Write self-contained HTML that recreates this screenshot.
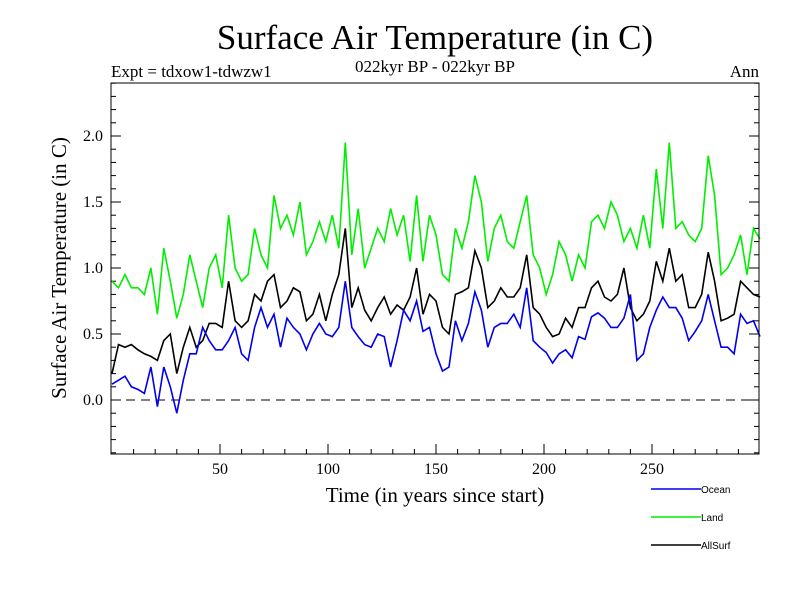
<!DOCTYPE html>
<html><head><meta charset="utf-8"><style>
body{margin:0;background:#fff}
svg text{font-family:"Liberation Serif",serif}
svg text.sans{font-family:"Liberation Sans",sans-serif}
</style></head><body>
<svg id="chart" width="800" height="600" xmlns="http://www.w3.org/2000/svg">
<rect width="800" height="600" fill="#fff"/>
<text x="435" y="49" font-size="35" text-anchor="middle">Surface Air Temperature (in C)</text>
<text x="111" y="77" font-size="17">Expt = tdxow1-tdwzw1</text>
<text x="435" y="72" font-size="17" text-anchor="middle">022kyr BP - 022kyr BP</text>
<text x="759" y="77" font-size="17" text-anchor="end">Ann</text>
<text x="435" y="502" font-size="21" text-anchor="middle">Time (in years since start)</text>
<text transform="translate(66,268) rotate(-90)" font-size="21" text-anchor="middle">Surface Air Temperature (in C)</text>
<g id="axes"></g>
<g id="series"></g>
<rect x="111" y="83" width="648" height="371" fill="none" stroke="#000" stroke-width="1"/>
<g id="legend"></g>
</svg>
<script>
const years = [];
for (let i = 0; i <= 100; i++) years.push(i * 3);
const ocean = [0.12,0.15,0.18,0.10,0.08,0.05,0.25,-0.05,0.25,0.10,-0.10,0.15,0.35,0.35,0.55,0.45,0.38,0.38,0.45,0.55,0.35,0.30,0.55,0.70,0.55,0.65,0.40,0.62,0.55,0.50,0.38,0.50,0.58,0.50,
0.48,0.55,0.90,0.55,0.48,0.42,0.40,0.50,0.48,0.25,0.45,0.68,0.60,0.75,0.52,0.55,0.35,0.22,0.25,0.60,0.45,0.58,0.82,0.68,0.40,0.55,0.58,0.58,0.65,0.55,0.85,0.45,0.40,
0.36,0.28,0.35,0.38,0.32,0.48,0.46,0.63,0.66,0.62,0.55,0.55,0.62,0.80,0.30,0.35,0.55,0.68,0.78,0.70,0.70,0.62,0.45,0.52,0.60,0.80,0.60,0.40,0.40,0.35,0.65,0.58,0.60,0.48];
const land = [0.90,0.85,0.95,0.85,0.85,0.80,1.00,0.65,1.15,0.90,0.62,0.80,1.10,0.90,0.70,1.00,1.10,0.85,1.40,1.00,0.90,0.95,1.30,1.10,1.00,1.55,1.30,1.40,1.25,1.50,1.10,1.20,1.35,1.20,
1.40,1.15,1.95,1.10,1.45,1.00,1.15,1.30,1.20,1.45,1.25,1.40,1.05,1.55,1.05,1.40,1.25,0.95,0.90,1.30,1.15,1.35,1.70,1.50,1.05,1.30,1.40,1.20,1.15,1.35,1.55,1.10,1.00,
0.80,0.95,1.20,1.10,0.90,1.10,1.00,1.35,1.40,1.30,1.50,1.40,1.20,1.30,1.15,1.40,1.15,1.75,1.30,1.95,1.30,1.35,1.25,1.20,1.30,1.85,1.55,0.95,1.00,1.10,1.25,0.95,1.30,1.22];
const allsurf = [0.20,0.42,0.40,0.42,0.38,0.35,0.33,0.30,0.45,0.50,0.20,0.40,0.55,0.40,0.45,0.58,0.58,0.55,0.90,0.60,0.55,0.60,0.80,0.75,0.90,0.95,0.70,0.75,0.85,0.82,0.60,0.65,0.80,0.60,
0.80,0.95,1.30,0.70,0.85,0.68,0.60,0.70,0.78,0.65,0.72,0.68,0.78,1.00,0.65,0.80,0.75,0.55,0.50,0.80,0.82,0.85,1.13,1.00,0.70,0.75,0.85,0.78,0.78,0.85,1.10,0.70,0.65,
0.55,0.48,0.50,0.62,0.55,0.70,0.70,0.85,0.90,0.78,0.75,0.80,1.00,0.70,0.60,0.65,0.75,1.05,0.90,1.15,0.90,0.95,0.70,0.70,0.80,1.12,0.90,0.60,0.62,0.65,0.90,0.85,0.80,0.78];
const xTicks = [50,100,150,200,250];
const yTicks = [0.0,0.5,1.0,1.5,2.0];
const yTickLabels = ["0.0","0.5","1.0","1.5","2.0"];

const NS = "http://www.w3.org/2000/svg";
const X = yr => 112 + yr * 2.16;
const Y = v => 400 - v * 132;
function mk(tag, attrs, parent){const e=document.createElementNS(NS,tag);for(const k in attrs)e.setAttribute(k,attrs[k]);parent.appendChild(e);return e;}
const axes = document.getElementById('axes');
for (let t = 10; t < 300; t += 10) {
  const len = t % 50 === 0 ? 10 : 5;
  const l = mk('line',{x1:X(t),x2:X(t),y1:454,y2:454-len,stroke:'#000'},axes);
  
  
}
xTicks.forEach(t=>{
  const tx = mk('text',{x:X(t),y:474,'font-size':16,'text-anchor':'middle'},axes);
  tx.textContent = t;
  
  
});
for (let k = -4; k <= 24; k++) {
  const v = k/10, len = k % 5 === 0 ? 10 : 5;
  let l = mk('line',{x1:111,x2:111+len,y1:Y(v),y2:Y(v),stroke:'#000'},axes);
  
  
  l = mk('line',{x1:759,x2:759-len,y1:Y(v),y2:Y(v),stroke:'#000'},axes);
  
  
}
yTicks.forEach((v,i)=>{
  const tx = mk('text',{x:103,y:Y(v)+5,'font-size':16,'text-anchor':'end'},axes);
  tx.textContent = yTickLabels[i];
  
  
});
const zl = mk('line',{x1:111,x2:759,y1:Y(0),y2:Y(0),stroke:'#000','stroke-dasharray':'9,6'},axes);



const series = document.getElementById('series');
function draw(vals,color,name){
  const d = vals.map((v,i)=>(i?'L':'M')+X(years[i]).toFixed(1)+','+Y(v).toFixed(1)).join(' ');
  const p = mk('path',{d:d,fill:'none',stroke:color,'stroke-width':1.6},series);
  
  
}
draw(land,'#00ee00','land-line');
draw(allsurf,'#000','allsurf-line');
draw(ocean,'#0000ee','ocean-line');

const legend = document.getElementById('legend');
[['Ocean','#0000ee',489],['Land','#00ee00',517],['AllSurf','#000',545]].forEach(([n,c,y])=>{
  const l = mk('line',{x1:651,x2:701,y1:y,y2:y,stroke:c,'stroke-width':1.6},legend);
  
  
  const t = mk('text',{x:701,y:y+4,'font-size':10,'class':'sans'},legend);
  t.textContent = n;
  
  
});
</script>
</body></html>
